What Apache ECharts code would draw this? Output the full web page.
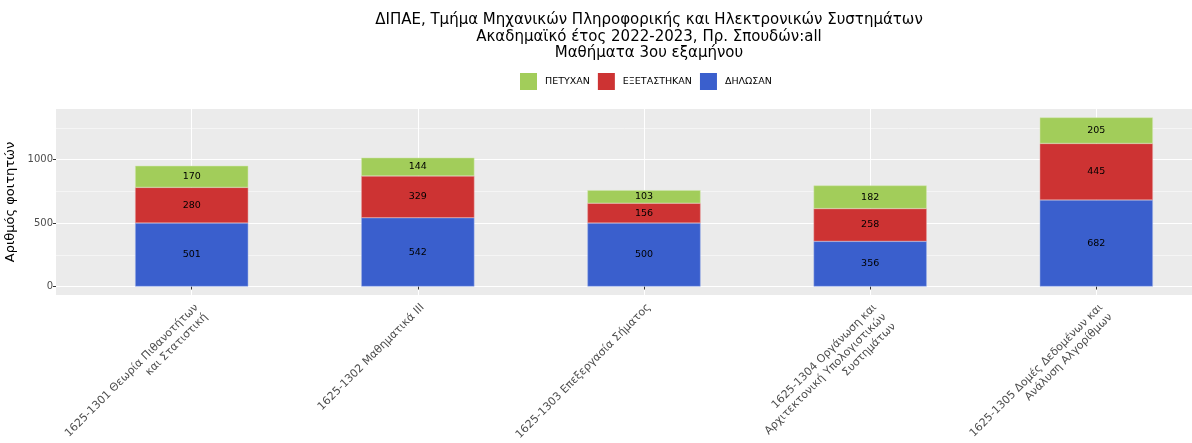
<!DOCTYPE html>
<html>
<head>
<meta charset="utf-8">
<script src="https://cdn.jsdelivr.net/npm/echarts@6/dist/echarts.min.js"></script>
<style>
  html, body { margin: 0; padding: 0; background: #fff; }
  #chart { width: 1192px; height: 443px; }
</style>
</head>
<body>
<div id="chart"></div>
<script>
// Μαθήματα 3ου εξαμήνου
var courses = [
    '1625-1301 Θεωρία Πιθανοτήτων\nκαι Στατιστική',
    '1625-1302 Μαθηματικά ΙΙΙ',
    '1625-1303 Επεξεργασία Σήματος',
    '1625-1304 Οργάνωση και\nΑρχιτεκτονική Υπολογιστικών\nΣυστημάτων',
    '1625-1305 Δομές Δεδομένων και\nΑνάλυση Αλγορίθμων'
];
var dilosan = [501, 542, 500, 356, 682];
var exetastikan = [280, 329, 156, 258, 445];
var petyxan = [170, 144, 103, 182, 205];
var yTicks = [0, 500, 1000];
var yMinor = [250, 750, 1250];

var font = 'DejaVu Sans';

// θέσεις κατηγοριών στο panel (1..n)
var xPos = courses.map(function (c, i) { return i + 1; });

// ggplot: 5% expansion στον y, 0.6 στον x
var totalMax = 0;
for (var i = 0; i < courses.length; i++) {
    totalMax = Math.max(totalMax, dilosan[i] + exetastikan[i] + petyxan[i]);
}
var yMin = -totalMax * 0.05;
var yMax = totalMax * 1.05;

var panelLeft = 56, panelRight = 1232, panelTop = 109, panelBottom = 295;
var unit = (panelRight - panelLeft) / (courses.length - 1 + 1.2);
var barsLeft = panelLeft + 0.1 * unit;
var barsRight = panelRight - 0.1 * unit;

var barLabel = {
    show: true,
    position: 'inside',
    color: '#000',
    fontSize: 9.5,
    fontFamily: font
};

var chart = echarts.init(document.getElementById('chart'));
chart.setOption({
    animation: false,
    title: {
        text: 'ΔΙΠΑΕ, Τμήμα Μηχανικών Πληροφορικής και Ηλεκτρονικών Συστημάτων\nΑκαδημαϊκό έτος 2022-2023, Πρ. Σπουδών:all\nΜαθήματα 3ου εξαμήνου',
        left: 644,
        top: 7,
        textAlign: 'center',
        textStyle: {
            fontFamily: font,
            fontSize: 15,
            fontWeight: 'normal',
            color: '#000',
            lineHeight: 16.5
        }
    },
    legend: {
        data: ['ΠΕΤΥΧΑΝ', 'ΕΞΕΤΑΣΤΗΚΑΝ', 'ΔΗΛΩΣΑΝ'],
        left: 515,
        top: 68,
        icon: 'rect',
        itemWidth: 17,
        itemHeight: 17,
        itemGap: 8,
        itemStyle: { borderWidth: 0 },
        textStyle: {
            fontFamily: font,
            fontSize: 9.5,
            color: '#000',
            padding: [0, 0, 0, 3]
        }
    },
    grid: [{
        // panel με φόντο και γραμμές
        left: panelLeft,
        right: 1192 - panelRight,
        top: panelTop,
        bottom: 443 - panelBottom,
        outerBoundsMode: 'none',
        show: true,
        backgroundColor: '#EBEBEB',
        borderWidth: 0
    }, {
        // μπάρες
        left: barsLeft,
        right: 1192 - barsRight,
        top: panelTop,
        bottom: 443 - panelBottom,
        outerBoundsMode: 'none'
    }],
    xAxis: [{
        gridIndex: 0,
        type: 'value',
        min: 0.4,
        max: 5.6,
        axisLine: { show: false },
        axisTick: { show: false, customValues: xPos },
        axisLabel: { show: false, customValues: xPos },
        splitLine: { show: true, lineStyle: { color: '#fff', width: 1.1 } }
    }, {
        gridIndex: 1,
        type: 'category',
        data: courses,
        axisLine: { show: false },
        axisTick: {
            show: true,
            alignWithLabel: true,
            length: 3,
            lineStyle: { color: '#333' }
        },
        axisLabel: {
            interval: 0,
            rotate: 45,
            margin: 6,
            align: 'right',
            verticalAlign: 'top',
            fontFamily: font,
            fontSize: 11,
            color: '#4D4D4D',
            lineHeight: 13.5
        },
        splitLine: { show: false }
    }],
    yAxis: [{
        gridIndex: 0,
        type: 'value',
        min: yMin,
        max: yMax,
        name: 'Αριθμός φοιτητών',
        nameLocation: 'middle',
        nameGap: 32,
        nameTextStyle: { fontFamily: font, fontSize: 13, color: '#000' },
        axisLine: { show: false },
        axisTick: {
            show: true,
            customValues: yTicks,
            length: 3,
            lineStyle: { color: '#333' }
        },
        axisLabel: {
            customValues: yTicks,
            margin: 3,
            fontFamily: font,
            fontSize: 10,
            color: '#4D4D4D',
            formatter: function (v) { return String(v); }
        },
        splitLine: { show: true, lineStyle: { color: '#fff', width: 1.1 } }
    }, {
        // minor γραμμές
        gridIndex: 0,
        type: 'value',
        min: yMin,
        max: yMax,
        axisLine: { show: false },
        axisTick: { show: false, customValues: yMinor },
        axisLabel: { show: false, customValues: yMinor },
        splitLine: { show: true, lineStyle: { color: '#fff', width: 0.5 } }
    }, {
        gridIndex: 1,
        type: 'value',
        min: yMin,
        max: yMax,
        show: false,
        splitLine: { show: false }
    }],
    series: [{
        name: 'ΔΗΛΩΣΑΝ',
        type: 'bar',
        xAxisIndex: 1,
        yAxisIndex: 2,
        stack: 'total',
        barWidth: '50%',
        data: dilosan,
        itemStyle: { color: '#3A5FCD', borderColor: '#9DB0E6', borderWidth: 0.5 },
        label: barLabel
    }, {
        name: 'ΕΞΕΤΑΣΤΗΚΑΝ',
        type: 'bar',
        xAxisIndex: 1,
        yAxisIndex: 2,
        stack: 'total',
        barWidth: '50%',
        data: exetastikan,
        itemStyle: { color: '#CD3333', borderColor: '#E69999', borderWidth: 0.5 },
        label: barLabel
    }, {
        name: 'ΠΕΤΥΧΑΝ',
        type: 'bar',
        xAxisIndex: 1,
        yAxisIndex: 2,
        stack: 'total',
        barWidth: '50%',
        data: petyxan,
        itemStyle: { color: '#A2CD5A', borderColor: '#D0E6AC', borderWidth: 0.5 },
        label: barLabel
    }]
});
</script>
</body>
</html>
